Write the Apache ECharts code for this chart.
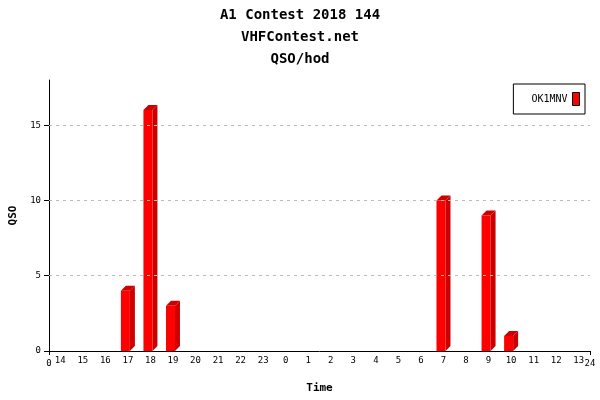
<!DOCTYPE html>
<html><head><meta charset="utf-8">
<script src="https://cdn.jsdelivr.net/npm/echarts@6/dist/echarts.min.js"></script>
<style>html,body{margin:0;padding:0;background:#fff}#c{width:600px;height:400px}</style>
</head><body><div id="c"></div>
<script>
const titles = ['A1 Contest 2018 144', 'VHFContest.net', 'QSO/hod'];
const hours = ['14','15','16','17','18','19','20','21','22','23','0','1','2','3','4','5','6','7','8','9','10','11','12','13'];
const qso =   [0,0,0,4,16,3,0,0,0,0,0,0,0,0,0,0,0,10,0,9,1,0,0,0];
const seriesName = 'OK1MNV';
const yTicks = [0, 5, 10, 15];
const gridTicks = [5, 10, 15];
const edgeLabels = [0, 24];

const mono = 'DejaVu Sans Mono';
const chart = echarts.init(document.getElementById('c'));
chart.setOption({
  animation: false,
  backgroundColor: '#fff',
  title: titles.map((t, i) => ({
    text: t, left: 'center', top: 3 + i * 22,
    textStyle: {fontFamily: mono, fontSize: 14, fontWeight: 'bold', color: '#000'}
  })),
  legend: {
    right: 15, top: 84, orient: 'vertical', align: 'right',
    borderColor: '#000', borderWidth: 1, borderRadius: 0,
    padding: [8, 5, 8, 18], itemWidth: 7, itemHeight: 13, itemGap: 4,
    textStyle: {fontFamily: mono, fontSize: 10, color: '#000'},
    data: [{name: seriesName, icon: 'rect', itemStyle: {color: '#ff0000', borderColor: '#000', borderWidth: 1}}]
  },
  grid: {left: 47, right: 10, top: 80, bottom: 49},
  xAxis: [{
    type: 'category', data: hours, position: 'bottom',
    name: 'Time', nameLocation: 'middle', nameGap: 32,
    nameTextStyle: {fontFamily: mono, fontSize: 11, fontWeight: 'bold', color: '#000'},
    axisLine: {lineStyle: {color: '#000', width: 1}},
    axisTick: {show: false},
    axisLabel: {interval: 0, margin: 5, fontFamily: mono, fontSize: 9, color: '#000'}
  }, {
    type: 'value', min: edgeLabels[0], max: edgeLabels[1], interval: 24, position: 'bottom',
    axisLine: {show: false},
    axisTick: {show: true, length: 4, lineStyle: {color: '#000'}},
    axisLabel: {margin: 8, fontFamily: mono, fontSize: 9, color: '#000'},
    splitLine: {show: false}
  }],
  yAxis: {
    type: 'value', min: 0, max: 18, interval: 5,
    name: 'QSO', nameLocation: 'middle', nameGap: 30, nameRotate: 90,
    nameTextStyle: {fontFamily: mono, fontSize: 11, fontWeight: 'bold', color: '#000'},
    axisLine: {show: true, lineStyle: {color: '#000'}},
    axisTick: {show: true, length: 5, inside: false, customValues: yTicks, lineStyle: {color: '#000'}},
    axisLabel: {margin: 8, fontFamily: mono, fontSize: 9, color: '#000', customValues: yTicks},
    splitLine: {show: false}
  },
  series: [{
    name: seriesName, type: 'custom', xAxisIndex: 0,
    itemStyle: {color: '#ff0000'},
    data: hours.map((h, i) => [i, qso[i]]),
    markLine: {
      silent: true, symbol: 'none', label: {show: false},
      lineStyle: {color: '#bbb', type: [3, 4], width: 1},
      data: gridTicks.map(v => ({yAxis: v}))
    },
    renderItem(params, api) {
      const v = api.value(1);
      if (!v) return null;
      const x = api.value(0);
      const base = api.coord([x, 0]);
      const top = api.coord([x, v]);
      const cx = base[0];
      const fl = cx - 7, fr = cx + 2, d = 5;
      return {type: 'group', children: [
        {type: 'polygon', shape: {points: [[fr, top[1]], [fr + d, top[1] - d], [fr + d, base[1] - d], [fr, base[1]]]}, style: {fill: '#cc0000'}},
        {type: 'polygon', shape: {points: [[fl, top[1]], [fl + d, top[1] - d], [fr + d, top[1] - d], [fr, top[1]]]}, style: {fill: '#cc0000'}},
        {type: 'rect', shape: {x: fl, y: top[1], width: fr - fl, height: base[1] - top[1]}, style: {fill: '#ff0000'}}
      ]};
    }
  }]
});
</script></body></html>
